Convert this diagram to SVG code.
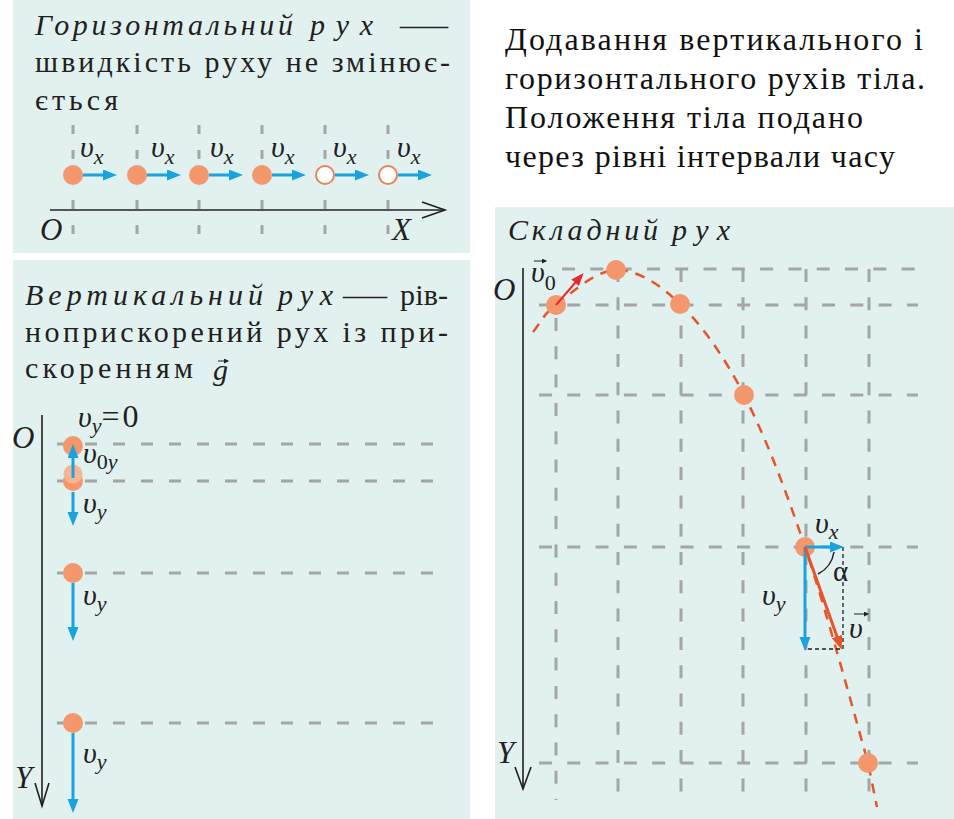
<svg xmlns="http://www.w3.org/2000/svg" width="954" height="819" viewBox="0 0 954 819">
<defs>
<marker id="ab" markerUnits="userSpaceOnUse" markerWidth="14" markerHeight="12" refX="9" refY="5.5" orient="auto">
<path d="M0,0 L14,5.5 L0,11 z" fill="#1ba3dd"/>
</marker>
<marker id="ar" markerUnits="userSpaceOnUse" markerWidth="14" markerHeight="12" refX="9" refY="5.5" orient="auto">
<path d="M0,0 L14,5.5 L0,11 z" fill="#e8542a"/>
</marker>
<marker id="ar0" markerUnits="userSpaceOnUse" markerWidth="14" markerHeight="12" refX="9" refY="5" orient="auto">
<path d="M0,0 L13,5 L0,10 z" fill="#e32b2b"/>
</marker>
<marker id="vec" markerUnits="userSpaceOnUse" markerWidth="6" markerHeight="6" refX="4" refY="2.5" orient="auto">
<path d="M0,0 L5,2.5 L0,5 z" fill="#231f20"/>
</marker>
</defs>
<g id="caption" fill="#111111">
<text x="505" y="50" font-family="Liberation Serif" font-size="32" textLength="418" lengthAdjust="spacing">Додавання вертикального і</text>
<text x="505" y="89" font-family="Liberation Serif" font-size="32" textLength="420" lengthAdjust="spacing">горизонтального рухів тіла.</text>
<text x="505" y="128" font-family="Liberation Serif" font-size="32" textLength="358" lengthAdjust="spacing">Положення тіла подано</text>
<text x="505" y="167" font-family="Liberation Serif" font-size="32" textLength="390" lengthAdjust="spacing">через рівні інтервали часу</text>
</g>
<g id="panel-horizontal">
<rect fill="#e1f1f0" x="13" y="0" width="457" height="253"/>
<g fill="#231f20">
<text x="35" y="35" font-family="Liberation Serif" font-size="30" font-style="italic" textLength="258" lengthAdjust="spacing">Горизонтальний</text>
<text x="310" y="35" font-family="Liberation Serif" font-size="30" font-style="italic" textLength="63" lengthAdjust="spacing">рух</text>
<text x="400" y="35" font-family="Liberation Serif" font-size="30" textLength="48" lengthAdjust="spacingAndGlyphs">—</text>
<text x="35" y="72" font-family="Liberation Serif" font-size="30" textLength="415" lengthAdjust="spacing">швидкість руху не змінює-</text>
<text x="35" y="110" font-family="Liberation Serif" font-size="30" textLength="83" lengthAdjust="spacing">ється</text>
</g>
<g stroke="#a4a6a7" stroke-width="3" fill="none" stroke-dasharray="9 16">
<line x1="73" y1="125" x2="73" y2="236"/>
<line x1="137" y1="125" x2="137" y2="236"/>
<line x1="199" y1="125" x2="199" y2="236"/>
<line x1="262" y1="125" x2="262" y2="236"/>
<line x1="325" y1="125" x2="325" y2="236"/>
<line x1="388" y1="125" x2="388" y2="236"/>
</g>
<g id="x-axis" fill="#231f20">
<line x1="50" y1="210" x2="445" y2="210" stroke="#231f20" stroke-width="1.6"/>
<polyline points="422,202 445,210 422,218" fill="none" stroke="#231f20" stroke-width="1.6"/>
<text x="40" y="240" font-family="Liberation Serif" font-size="31" font-style="italic">O</text>
<text x="392" y="240" font-family="Liberation Serif" font-size="31" font-style="italic">X</text>
</g>
<g id="h-dots" fill="#f4976c">
<circle cx="73" cy="175" r="10"/>
<circle cx="137" cy="175" r="10"/>
<circle cx="199" cy="175" r="10"/>
<circle cx="262" cy="175" r="10"/>
<circle cx="325" cy="175" r="9" fill="#ffffff" stroke="#ec8259" stroke-width="2"/>
<circle cx="388" cy="175" r="9" fill="#ffffff" stroke="#ec8259" stroke-width="2"/>
</g>
<g id="h-arrows" stroke="#1ba3dd" stroke-width="3" fill="none">
<line x1="83" y1="175" x2="112" y2="175" marker-end="url(#ab)"/>
<line x1="147" y1="175" x2="176" y2="175" marker-end="url(#ab)"/>
<line x1="209" y1="175" x2="238" y2="175" marker-end="url(#ab)"/>
<line x1="272" y1="175" x2="301" y2="175" marker-end="url(#ab)"/>
<line x1="335" y1="175" x2="364" y2="175" marker-end="url(#ab)"/>
<line x1="398" y1="175" x2="427" y2="175" marker-end="url(#ab)"/>
</g>
<g id="h-labels" fill="#231f20">
<text x="80" y="157" font-family="Liberation Serif" font-size="30" font-style="italic">υ<tspan font-size="22" dy="7">x</tspan></text>
<text x="151" y="157" font-family="Liberation Serif" font-size="30" font-style="italic">υ<tspan font-size="22" dy="7">x</tspan></text>
<text x="210" y="157" font-family="Liberation Serif" font-size="30" font-style="italic">υ<tspan font-size="22" dy="7">x</tspan></text>
<text x="271" y="157" font-family="Liberation Serif" font-size="30" font-style="italic">υ<tspan font-size="22" dy="7">x</tspan></text>
<text x="333" y="157" font-family="Liberation Serif" font-size="30" font-style="italic">υ<tspan font-size="22" dy="7">x</tspan></text>
<text x="397" y="157" font-family="Liberation Serif" font-size="30" font-style="italic">υ<tspan font-size="22" dy="7">x</tspan></text>
</g>
</g>
<g id="panel-vertical">
<rect fill="#e1f1f0" x="13" y="260" width="457" height="559"/>
<g fill="#231f20">
<text x="25" y="305" font-family="Liberation Serif" font-size="30" font-style="italic" textLength="238" lengthAdjust="spacing">Вертикальний</text>
<text x="278" y="305" font-family="Liberation Serif" font-size="30" font-style="italic" textLength="55" lengthAdjust="spacing">рух</text>
<text x="343" y="305" font-family="Liberation Serif" font-size="30" textLength="44" lengthAdjust="spacingAndGlyphs">—</text>
<text x="400" y="305" font-family="Liberation Serif" font-size="30" textLength="48" lengthAdjust="spacing">рів-</text>
<text x="25" y="342" font-family="Liberation Serif" font-size="30" textLength="423" lengthAdjust="spacing">ноприскорений рух із при-</text>
<text x="25" y="378" font-family="Liberation Serif" font-size="30" textLength="168" lengthAdjust="spacing">скоренням</text>
<text x="213" y="380" font-family="Liberation Serif" font-size="30" font-style="italic">g</text>
<line x1="218" y1="361" x2="228" y2="361" stroke="#231f20" stroke-width="1" marker-end="url(#vec)"/>
</g>
<g stroke="#a4a6a7" stroke-width="3" fill="none" stroke-dasharray="12 16">
<line x1="57" y1="444" x2="437" y2="444"/>
<line x1="57" y1="481" x2="437" y2="481"/>
<line x1="57" y1="573" x2="437" y2="573"/>
<line x1="57" y1="723" x2="437" y2="723"/>
</g>
<g id="y-axis-1" fill="#231f20">
<line x1="42" y1="415" x2="42" y2="806" stroke="#231f20" stroke-width="1.6"/>
<polyline points="35,783 42,806 49,783" fill="none" stroke="#231f20" stroke-width="1.6"/>
<text x="12" y="448" font-family="Liberation Serif" font-size="31" font-style="italic">O</text>
<text x="15" y="788" font-family="Liberation Serif" font-size="31" font-style="italic">Y</text>
</g>
<g id="v-dots" fill="#f4976c">
<circle cx="73" cy="481" r="10"/>
<circle cx="73" cy="474" r="9.5" fill="#f7b596"/>
<circle cx="73" cy="446" r="10"/>
<circle cx="73" cy="573" r="10"/>
<circle cx="73" cy="723" r="10"/>
</g>
<g id="v-arrows" stroke="#1ba3dd" stroke-width="3" fill="none">
<line x1="73" y1="478" x2="73" y2="449" marker-end="url(#ab)"/>
<line x1="73" y1="492" x2="73" y2="521" marker-end="url(#ab)"/>
<line x1="73" y1="583" x2="73" y2="636" marker-end="url(#ab)"/>
<line x1="73" y1="733" x2="73" y2="808" marker-end="url(#ab)"/>
</g>
<g id="v-labels" fill="#231f20">
<text x="78" y="427" font-family="Liberation Serif" font-size="30" font-style="italic">υ<tspan font-size="22" dy="6">y</tspan><tspan dy="-6" font-style="normal" font-size="32">=</tspan><tspan font-style="normal" font-size="32" dx="3">0</tspan></text>
<text x="83" y="463" font-family="Liberation Serif" font-size="30" font-style="italic">υ<tspan font-size="22" font-style="normal" dy="6">0</tspan><tspan font-size="22">y</tspan></text>
<text x="83" y="513" font-family="Liberation Serif" font-size="30" font-style="italic">υ<tspan font-size="22" dy="6">y</tspan></text>
<text x="83" y="605" font-family="Liberation Serif" font-size="30" font-style="italic">υ<tspan font-size="22" dy="6">y</tspan></text>
<text x="83" y="763" font-family="Liberation Serif" font-size="30" font-style="italic">υ<tspan font-size="22" dy="6">y</tspan></text>
</g>
</g>
<g id="panel-compound">
<rect fill="#e1f1f0" x="495" y="207" width="459" height="612"/>
<g fill="#231f20">
<text x="508" y="240" font-family="Liberation Serif" font-size="30" font-style="italic" textLength="150" lengthAdjust="spacing">Складний</text>
<text x="672" y="240" font-family="Liberation Serif" font-size="30" font-style="italic" textLength="58" lengthAdjust="spacing">рух</text>
</g>
<g id="grid" stroke="#a4a6a7" stroke-width="3" fill="none" stroke-dasharray="13 15.3">
<line x1="562" y1="269" x2="918" y2="269"/>
<line x1="539" y1="305" x2="918" y2="305"/>
<line x1="539" y1="395" x2="918" y2="395"/>
<line x1="539" y1="547" x2="918" y2="547"/>
<line x1="539" y1="763" x2="918" y2="763"/>
<line x1="556" y1="318" x2="556" y2="800"/>
<line x1="618" y1="269" x2="618" y2="800"/>
<line x1="681" y1="269" x2="681" y2="800"/>
<line x1="743" y1="269" x2="743" y2="800"/>
<line x1="806" y1="269" x2="806" y2="800"/>
<line x1="869" y1="269" x2="869" y2="800"/>
</g>
<g id="y-axis-2" fill="#231f20">
<line x1="523" y1="268" x2="523" y2="789" stroke="#231f20" stroke-width="1.6"/>
<polyline points="515,767 523,789 531,767" fill="none" stroke="#231f20" stroke-width="1.6"/>
<text x="493" y="300" font-family="Liberation Serif" font-size="31" font-style="italic">O</text>
<text x="497" y="763" font-family="Liberation Serif" font-size="31" font-style="italic">Y</text>
</g>
<path id="trajectory" d="M533,332 C540.7,323 542.2,315.3 556,305 C569.8,294.7 595.3,270.2 616,270 C636.7,269.8 658.7,283.2 680,304 C701.3,324.8 723.2,354.5 744,395 C764.8,435.5 784.3,485.7 805,547 C825.7,608.3 856,719.7 868,763 C871,777.7 874,792 877,807" fill="none" stroke="#e8542a" stroke-width="2.5" stroke-dasharray="10 8"/>
<g id="c-dots" fill="#f4976c">
<circle cx="556" cy="305" r="10"/>
<circle cx="616" cy="270" r="10"/>
<circle cx="680" cy="304" r="10"/>
<circle cx="744" cy="395" r="10"/>
<circle cx="805" cy="547" r="10"/>
<circle cx="868" cy="763" r="10"/>
</g>
<g id="connectors">
<line x1="556" y1="305" x2="581" y2="276" stroke="#e32b2b" stroke-width="2" marker-end="url(#ar0)"/>
<path d="M843,547 V649 H805" fill="none" stroke="#231f20" stroke-width="1.3" stroke-dasharray="4 3"/>
<line x1="805" y1="547" x2="839" y2="547" stroke="#1ba3dd" stroke-width="3" marker-end="url(#ab)"/>
<line x1="805" y1="547" x2="805" y2="646" stroke="#1ba3dd" stroke-width="3" marker-end="url(#ab)"/>
<line x1="805" y1="547" x2="840" y2="645" stroke="#e8542a" stroke-width="3" marker-end="url(#ar)"/>
<path d="M834,552 A30,30 0 0 1 818,574" fill="none" stroke="#231f20" stroke-width="1.5"/>
</g>
<g id="c-labels" fill="#231f20">
<text x="531" y="282" font-family="Liberation Serif" font-size="30" font-style="italic">υ<tspan font-size="22" font-style="normal" dy="8">0</tspan></text>
<line x1="534" y1="261" x2="546" y2="261" stroke="#231f20" stroke-width="1" marker-end="url(#vec)"/>
<text x="815" y="533" font-family="Liberation Serif" font-size="30" font-style="italic">υ<tspan font-size="22" dy="6">x</tspan></text>
<text x="762" y="605" font-family="Liberation Serif" font-size="30" font-style="italic">υ<tspan font-size="22" dy="6">y</tspan></text>
<text x="833" y="581" font-family="Liberation Serif" font-size="29">α</text>
<text x="849" y="638" font-family="Liberation Serif" font-size="30" font-style="italic">υ</text>
<line x1="854" y1="614" x2="868" y2="614" stroke="#231f20" stroke-width="1" marker-end="url(#vec)"/>
</g>
</g>
</svg>
